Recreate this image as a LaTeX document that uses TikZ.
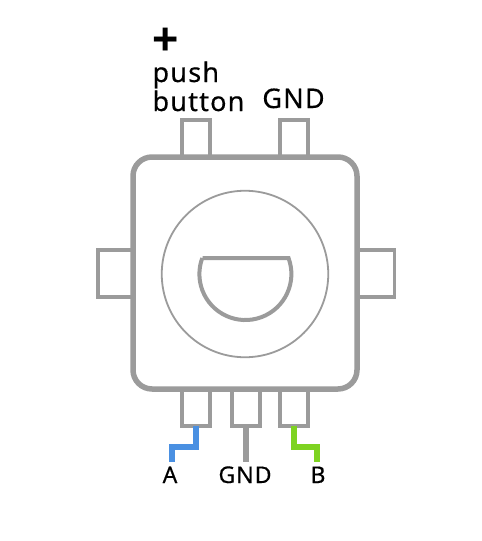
\documentclass[tikz,border=0pt]{standalone}
\usepackage{fontspec}
\setmainfont[LetterSpace=4.5,FakeBold=0.4]{Noto Sans}
\newfontfamily\plusfont{Liberation Sans}
\usetikzlibrary{arrows.meta,positioning}
\definecolor{encodergray}{HTML}{9B9B9B}
\definecolor{wireblue}{HTML}{4A90E2}
\definecolor{wiregreen}{HTML}{7ED321}
\tikzset{
  pinbox/.style={draw=encodergray,line width=3.5pt,fill=white,outer sep=0pt,inner sep=0pt},
  toppin/.style={pinbox,minimum width=28pt,minimum height=40pt},
  sidepin/.style={pinbox,minimum width=40pt,minimum height=47pt},
  wire/.style={line width=5.5pt},
  biglabel/.style={anchor=base,font=\fontsize{27}{29}\selectfont},
  smalllabel/.style={anchor=base,font=\fontsize{23}{24}\selectfont}
}

\begin{document}
\begin{tikzpicture}[x=1pt,y=-1pt]
    \useasboundingbox (0,0) rectangle (482,541);
    % pins behind the body
    \node[toppin] (pinpush) at (196,140) {};
    \node[toppin] (pingndtop) at (294,140) {};
    \node[sidepin] (pinleft) at (118,273.5) {};
    \node[sidepin] (pinright) at (374.5,273.5) {};
    \node[toppin] (pina) at (196,406) {};
    \node[toppin] (pingnd) at (246,406) {};
    \node[toppin] (pinb) at (294,406) {};
    % body and knob
    \node[draw=encodergray,line width=5.5pt,rounded corners=19pt,fill=white,
      minimum width=224pt,minimum height=232pt,outer sep=0pt] (body) at (245,273) {};
    \node[circle,draw=encodergray,line width=1.8pt,minimum size=166.5pt,
      inner sep=0pt] (knob) at (245,274) {};
    \draw[encodergray,line width=4pt,line join=miter]
      (202.5,258) -- (288.5,258) arc[start angle=-20.4,end angle=200.4,radius=46];
    % labels
    \node[anchor=base west,font=\fontsize{45}{45}\selectfont\plusfont\bfseries] (plus) at (149,54) {+};
    \node[biglabel,anchor=base west] (push) at (149,82) {push};
    \node[biglabel,anchor=base west] (button) at (149,111) {button};
    \node[biglabel] (gndtop) at (293.5,108) {GND};
    \node[smalllabel] (labela) at (170,483) {A};
    \node[smalllabel] (labelgnd) at (245,483) {GND};
    \node[smalllabel] (labelb) at (318,483) {B};
    % wires
    \coordinate (enda) at (172,462);
    \coordinate (endgnd) at (246,462);
    \coordinate (endb) at (317,462);
    \draw[wire,wireblue] (pina.south) -- ++(0,21) -| (enda);
    \draw[wire,encodergray] (pingnd.south) -- (endgnd);
    \draw[wire,wiregreen] (pinb.south) -- ++(0,21) -| (endb);
  \end{tikzpicture}
\end{document}
